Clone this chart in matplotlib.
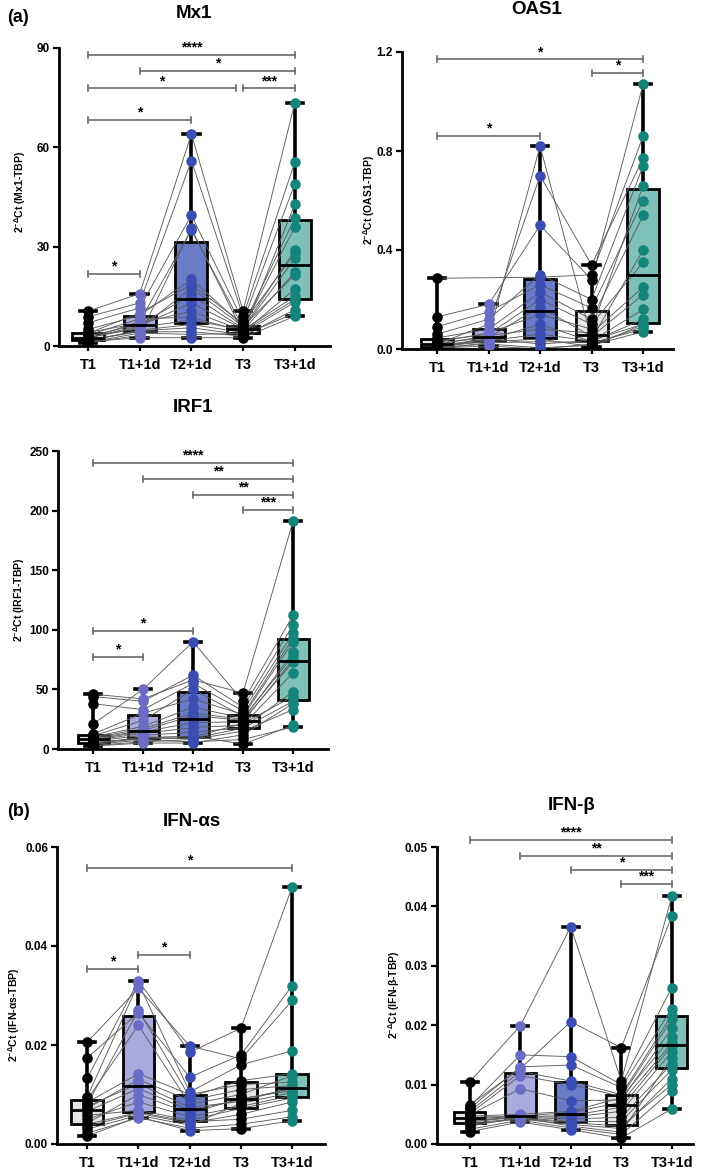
import numpy as np
import matplotlib.pyplot as plt

plt.rcParams['font.family'] = ['Liberation Sans', 'DejaVu Sans']
plt.rcParams['font.weight'] = 'bold'
plt.rcParams['mathtext.fontset'] = 'custom'
plt.rcParams['mathtext.rm'] = 'Liberation Sans:bold'
plt.rcParams['mathtext.bf'] = 'Liberation Sans:bold'
plt.rcParams['mathtext.it'] = 'Liberation Sans:bold'

# -------------------------------------------------------------------
# data: one value per subject (same subject order in every group)
# -------------------------------------------------------------------
groups = ['T1', 'T1+1d', 'T2+1d', 'T3', 'T3+1d']

mx1_t1 = [2.4, 1.0, 10.5, 3.3, 1.6, 5.0, 2.6, 1.3, 8.8, 4.1, 1.9, 2.2, 7.0, 1.1, 3.8, 2.5, 1.5, 3.0]
mx1_t1d = [6.1, 3.2, 15.8, 8.2, 4.6, 9.2, 5.3, 2.5, 13.0, 6.9, 4.3, 7.4, 11.5, 3.9, 10.0, 5.7, 4.8, 6.5]
mx1_t2d = [13.0, 35.5, 64.0, 8.7, 5.5, 20.2, 17.5, 2.5, 56.0, 10.5, 4.3, 35.0, 39.5, 3.5, 18.5, 7.8, 6.5, 15.4]
mx1_t3 = [5.1, 4.0, 10.5, 4.4, 3.4, 6.1, 5.9, 2.5, 9.0, 4.7, 3.0, 5.6, 7.5, 3.8, 6.8, 4.9, 4.1, 5.3]
mx1_t3d = [26.5, 42.8, 73.5, 14.0, 9.9, 38.6, 21.5, 9.0, 55.5, 22.3, 11.0, 35.9, 49.0, 13.3, 28.0, 15.0, 17.2, 29.0]

oas1_t1 = [0.286, 0.0, 0.13, 0.01, 0.02, 0.004, 0.09, 0.015, 0.033, 0.006, 0.06, 0.024, 0.002, 0.045, 0.012, 0.008, 0.028, 0.018]
oas1_t1d = [np.nan, 0.05, 0.18, 0.03, 0.1, 0.012, 0.15, 0.038, 0.06, 0.02, 0.12, 0.046, 0.025, 0.08, 0.033, 0.042, 0.065, 0.055]
oas1_t2d = [0.29, 0.82, 0.5, 0.04, 0.7, 0.0, 0.26, 0.1, 0.2, 0.005, 0.3, 0.17, 0.03, 0.23, 0.06, 0.02, 0.14, 0.08]
oas1_t3 = [0.3, 0.04, 0.28, 0.01, 0.34, 0.02, 0.165, 0.03, 0.1, 0.015, 0.2, 0.05, 0.025, 0.12, 0.032, 0.035, 0.08, 0.065]
oas1_t3d = [0.86, 0.4, 1.07, 0.1, 0.77, 0.09, 0.6, 0.12, 0.35, 0.07, 0.74, 0.22, 0.08, 0.54, 0.16, 0.1, 0.66, 0.25]

irf1_t1 = [8.0, 46.0, 3.0, 12.5, 5.5, 21.0, 9.5, 2.5, 44.0, 6.5, 11.0, 4.0, 38.0, 7.5, 10.0, 5.0, 8.8, 4.5]
irf1_t1d = [14.5, 42.0, 6.0, 30.0, 9.0, 50.0, 17.0, 5.0, 40.0, 11.5, 24.0, 7.5, 33.0, 13.0, 19.0, 8.5, 15.5, 10.0]
irf1_t2d = [22.0, 58.0, 8.0, 42.0, 11.0, 90.0, 30.0, 5.0, 62.0, 14.0, 50.0, 6.0, 55.0, 18.0, 35.0, 9.0, 28.0, 10.0]
irf1_t3 = [23.0, 47.0, 15.0, 29.0, 4.0, 40.0, 25.0, 12.0, 35.0, 18.0, 27.5, 8.0, 32.0, 20.0, 26.0, 17.5, 24.0, 21.5]
irf1_t3d = [75.0, 191.0, 33.0, 93.0, 20.0, 112.0, 81.0, 38.0, 104.0, 48.0, 90.0, 18.5, 97.0, 64.0, 78.0, 40.0, 73.0, 44.0]

ifna_t1 = [0.0066, 0.0206, 0.0036, 0.0084, 0.0022, 0.0133, 0.0050, 0.0090, 0.0174, 0.0040, 0.0076, 0.0016, 0.0095, 0.0058, 0.0072, 0.0030, 0.0080, 0.0042]
ifna_t1d = [0.0112, 0.0315, 0.0062, 0.0142, 0.0053, 0.0330, 0.0085, 0.0240, 0.0265, 0.0064, 0.0122, 0.0055, 0.0325, 0.0068, 0.0130, 0.0058, 0.0270, 0.0100]
ifna_t2d = [0.0068, 0.0198, 0.0042, 0.0100, 0.0032, 0.0185, 0.0055, 0.0080, 0.0135, 0.0045, 0.0074, 0.0027, 0.0105, 0.0048, 0.0088, 0.0038, 0.0095, 0.0062]
ifna_t3 = [0.0090, 0.0172, 0.0060, 0.0120, 0.0040, 0.0234, 0.0076, 0.0100, 0.0180, 0.0050, 0.0086, 0.0031, 0.0160, 0.0072, 0.0110, 0.0082, 0.0128, 0.0092]
ifna_t3d = [0.0112, 0.0290, 0.0085, 0.0125, 0.0055, 0.0520, 0.0098, 0.0138, 0.0320, 0.0068, 0.0114, 0.0047, 0.0188, 0.0093, 0.0118, 0.0104, 0.0142, 0.0108]

ifnb_t1 = [0.0043, 0.0105, 0.0033, 0.0051, 0.0025, 0.0066, 0.0039, 0.0049, 0.0063, 0.0035, 0.0045, 0.0021, 0.0060, 0.0041, 0.0047, 0.0030, 0.0055, 0.0037]
ifnb_t1d = [0.0046, 0.0199, 0.0042, 0.0115, 0.0040, 0.0127, 0.0045, 0.0093, 0.0150, 0.0043, 0.0047, 0.0037, 0.0130, 0.0044, 0.0050, 0.0045, 0.0122, 0.0046]
ifnb_t2d = [0.0048, 0.0366, 0.0033, 0.0100, 0.0027, 0.0206, 0.0042, 0.0073, 0.0147, 0.0036, 0.0053, 0.0024, 0.0133, 0.0038, 0.0055, 0.0030, 0.0106, 0.0045]
ifnb_t3 = [0.0062, 0.0106, 0.0026, 0.0080, 0.0016, 0.0162, 0.0045, 0.0074, 0.0100, 0.0030, 0.0070, 0.0010, 0.0095, 0.0038, 0.0078, 0.0020, 0.0083, 0.0055]
ifnb_t3d = [0.0165, 0.0417, 0.0110, 0.0210, 0.0090, 0.0384, 0.0135, 0.0195, 0.0263, 0.0100, 0.0170, 0.0059, 0.0228, 0.0125, 0.0180, 0.0145, 0.0217, 0.0155]

# significance brackets: (group i, group j, height, stars)
mx1_sig = [(0, 4, 88, '****'), (1, 4, 83, '*'), (0, 3, 77.8, '*'), (3, 4, 77.8, '***'),
           (0, 2, 68.4, '*'), (0, 1, 21.7, '*')]
oas1_sig = [(0, 4, 1.17, '*'), (3, 4, 1.115, '*'), (0, 2, 0.86, '*')]
irf1_sig = [(0, 4, 240, '****'), (1, 4, 226.5, '**'), (2, 4, 213, '**'), (3, 4, 200.5, '***'),
            (0, 2, 99, '*'), (0, 1, 77, '*')]
ifna_sig = [(0, 4, 0.0557, '*'), (0, 1, 0.0353, '*'), (1, 2, 0.0382, '*')]
ifnb_sig = [(0, 4, 0.0512, '****'), (1, 4, 0.0485, '**'), (2, 4, 0.0461, '*'), (3, 4, 0.0438, '***')]

dot_colors = ['black', '#6a6cc6', '#3a4db2', 'black', '#15857b']
box_colors = ['#e6e6e6', '#a9aadd', '#6a7bc8', '#e6e6e6', '#7fc0b9']

# -------------------------------------------------------------------
# layout (pixels of the 709 x 1170 figure)
# -------------------------------------------------------------------
W, H = 709, 1170
fig = plt.figure(figsize=(W / 100, H / 100), dpi=100)


def px_rect(l, r, t, b):
    return [l / W, 1 - b / H, (r - l) / W, (b - t) / H]


def ftext(x, y, s, **kw):
    fig.text(x / W, 1 - y / H, s, **kw)


def panel(rect, data, ylim, yticks, yticklabels, xlim, sig, ylab, title, lab_xy, title_xy):
    l, r, t, b = rect
    ax = fig.add_axes(px_rect(l, r, t, b))
    pos = np.arange(len(groups))
    vals = [np.asarray(v, dtype=float) for v in data]

    # subject lines
    n = len(vals[0])
    for s in range(n):
        ys = np.array([v[s] for v in vals])
        m = np.isfinite(ys)
        ax.plot(pos[m], ys[m], color='#5c5c5c', lw=0.65, zorder=2)

    bp = ax.boxplot([v[np.isfinite(v)] for v in vals], positions=pos, widths=0.62,
                    whis=(0, 100), patch_artist=True, showfliers=False, capwidths=0.32,
                    boxprops=dict(lw=2, edgecolor='black'),
                    medianprops=dict(color='black', lw=2),
                    whiskerprops=dict(color='black', lw=2.6),
                    capprops=dict(color='black', lw=2.6))
    for patch, c in zip(bp['boxes'], box_colors):
        patch.set_facecolor(c)
        patch.set_zorder(1)
    for a in bp['whiskers'] + bp['caps']:
        a.set_zorder(1.5)
    for a in bp['medians']:
        a.set_zorder(5)

    for i, v in enumerate(vals):
        v = v[np.isfinite(v)]
        ax.plot(np.full(len(v), pos[i]), v, 'o', ms=7.6, color=dot_colors[i],
                mec='none', zorder=4)

    ax.set_xlim(*xlim)
    ax.set_ylim(*ylim)
    ax.set_yticks(yticks)
    ax.set_yticklabels(yticklabels)
    ax.set_xticks(pos)
    ax.set_xticklabels(groups)
    for sp in ['top', 'right']:
        ax.spines[sp].set_visible(False)
    for sp in ['left', 'bottom']:
        ax.spines[sp].set_linewidth(2.0)
    ax.tick_params(axis='y', length=4.5, width=1.6, pad=2, labelsize=8.5)
    ax.tick_params(axis='x', length=3.5, width=1.6, pad=5, labelsize=10.5)
    for lbl in ax.get_xticklabels() + ax.get_yticklabels():
        lbl.set_fontweight('bold')

    # significance brackets
    h = 3.0 * (ylim[1] - ylim[0]) / (b - t)
    ends = {(i, y) for i, j, y, _ in sig}
    for i, j, y, stars in sig:
        x1, x2 = i, j
        if (j, y) in ends:
            x2 = j - 0.14
        ax.plot([x1, x2], [y, y], color='#6a6a6a', lw=1.2, zorder=6, clip_on=False)
        for xe in (x1, x2):
            ax.plot([xe, xe], [y - h, y + h], color='#6a6a6a', lw=1.2, zorder=6, clip_on=False)
        ax.annotate(stars, xy=((x1 + x2) / 2, y), xytext=(0, 0.3), textcoords='offset points',
                    ha='center', va='bottom', fontsize=10, fontweight='bold',
                    annotation_clip=False)

    ftext(lab_xy[0], lab_xy[1], ylab, rotation=90, ha='center', va='center', fontsize=7.5,
          fontweight='bold')
    ftext(title_xy[0], title_xy[1], title, ha='center', va='center', fontsize=13.5,
          fontweight='bold')
    return ax


panel((59, 330, 48, 346), [mx1_t1, mx1_t1d, mx1_t2d, mx1_t3, mx1_t3d],
      (0, 90), [0, 30, 60, 90], ['0', '30', '60', '90'], (-0.56, 4.68), mx1_sig,
      r'$2^{-\Delta}$Ct (Mx1-TBP)', 'Mx1', (20, 192), (194, 13))

panel((402, 673, 52, 349), [oas1_t1, oas1_t1d, oas1_t2d, oas1_t3, oas1_t3d],
      (0, 1.2), [0, 0.4, 0.8, 1.2], ['0.0', '0.4', '0.8', '1.2'], (-0.68, 4.58), oas1_sig,
      r'$2^{-\Delta}$Ct (OAS1-TBP)', 'OAS1', (369, 200), (537, 10))

panel((58, 328, 451, 749), [irf1_t1, irf1_t1d, irf1_t2d, irf1_t3, irf1_t3d],
      (0, 250), [0, 50, 100, 150, 200, 250], ['0', '50', '100', '150', '200', '250'],
      (-0.7, 4.7), irf1_sig,
      r'$2^{-\Delta}$Ct (IRF1-TBP)', 'IRF1', (19, 600), (193, 408))

panel((57, 325, 847, 1144), [ifna_t1, ifna_t1d, ifna_t2d, ifna_t3, ifna_t3d],
      (0, 0.06), [0, 0.02, 0.04, 0.06], ['0.00', '0.02', '0.04', '0.06'], (-0.59, 4.64),
      ifna_sig, r'$2^{-\Delta}$Ct (IFN-αs-TBP)', 'IFN-αs', (14, 1015), (192, 821))

panel((437, 693, 847, 1144), [ifnb_t1, ifnb_t1d, ifnb_t2d, ifnb_t3, ifnb_t3d],
      (0, 0.05), [0, 0.01, 0.02, 0.03, 0.04, 0.05],
      ['0.00', '0.01', '0.02', '0.03', '0.04', '0.05'], (-0.65, 4.42),
      ifnb_sig, r'$2^{-\Delta}$Ct (IFN-β-TBP)', 'IFN-β', (394, 995), (572, 806))

ftext(18, 17, '(a)', ha='center', va='center', fontsize=13, fontweight='bold')
ftext(18, 811, '(b)', ha='center', va='center', fontsize=13, fontweight='bold')

fig.savefig('out.png', dpi=100)
